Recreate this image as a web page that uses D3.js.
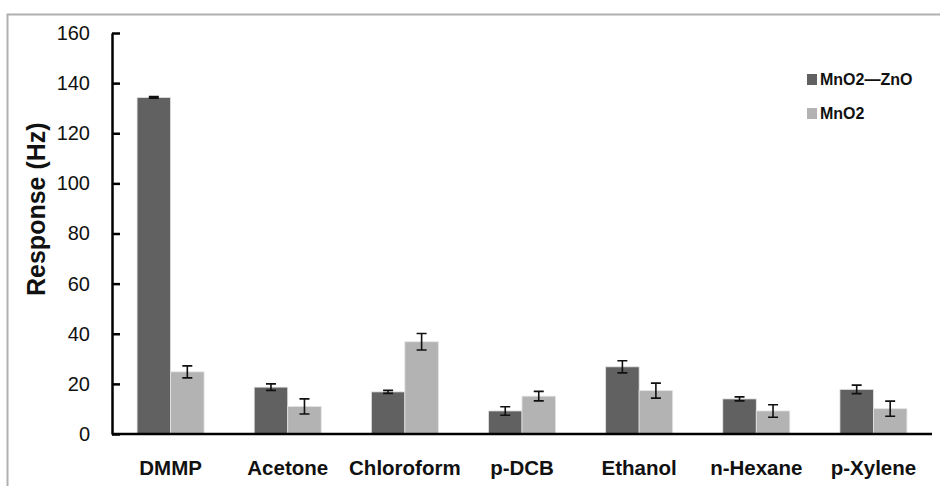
<!DOCTYPE html>
<html>
<head>
<meta charset="utf-8">
<script src="https://cdn.jsdelivr.net/npm/d3@7"></script>
<style>
  html, body { margin: 0; padding: 0; background: #fff; }
  svg { display: block; }
</style>
</head>
<body>
<svg id="chart" width="940" height="486"></svg>
<script>
// Gas sensor response per analyte, two sensing films
const categories = ["DMMP", "Acetone", "Chloroform", "p-DCB", "Ethanol", "n-Hexane", "p-Xylene"];
const seriesNames = ["MnO2\u2014ZnO", "MnO2"];
const mnZnValues = [134.3, 18.7, 16.8, 9.2, 26.8, 14.0, 17.8];
const mnZnErrors = [0.3, 1.3, 0.6, 1.7, 2.4, 0.8, 1.7];
const mnValues = [24.8, 11.0, 36.8, 15.1, 17.3, 9.2, 10.1];
const mnErrors = [2.4, 3.0, 3.3, 1.9, 3.0, 2.5, 3.0];
const yTicks = [0, 20, 40, 60, 80, 100, 120, 140, 160];

const colors = ["#616161", "#b3b3b3"];
const svg = d3.select("#chart");

// Outer frame (top and left edges only)
svg.append("path")
  .attr("d", "M7.5,486 L7.5,14.5 L940,14.5")
  .attr("fill", "none")
  .attr("stroke", "#b0b0b0")
  .attr("stroke-width", 2);

const plotLeft = 112, plotRight = 932, plotTop = 33, plotBottom = 434;

const x0 = d3.scaleBand()
  .domain(categories)
  .range([plotLeft, plotRight])
  .paddingInner(0.428)
  .paddingOuter(0.214);

const x1 = d3.scaleBand()
  .domain(seriesNames)
  .range([0, x0.bandwidth()]);

const y = d3.scaleLinear().domain([0, 160]).range([plotBottom, plotTop]);

const series = [
  { name: seriesNames[0], values: mnZnValues, errors: mnZnErrors, color: colors[0] },
  { name: seriesNames[1], values: mnValues, errors: mnErrors, color: colors[1] }
];

const rows = [];
series.forEach(s => {
  categories.forEach((c, i) => {
    rows.push({ cat: c, name: s.name, value: s.values[i], err: s.errors[i], color: s.color });
  });
});

// Bars
svg.append("g").selectAll("rect")
  .data(rows)
  .join("rect")
  .attr("x", d => x0(d.cat) + x1(d.name))
  .attr("y", d => y(d.value))
  .attr("width", x1.bandwidth())
  .attr("height", d => y(0) - y(d.value))
  .attr("fill", d => d.color)
  .attr("stroke", "#e4e4e4")
  .attr("stroke-width", 0.8);

// Error bars
const capHalf = 5;
const eb = svg.append("g")
  .attr("stroke", "#111")
  .attr("stroke-width", 1.6)
  .attr("fill", "none");
eb.selectAll("path")
  .data(rows)
  .join("path")
  .attr("d", d => {
    const cx = x0(d.cat) + x1(d.name) + x1.bandwidth() / 2;
    const y1 = y(d.value + d.err), y2 = y(d.value - d.err);
    return `M${cx - capHalf},${y1}H${cx + capHalf}M${cx},${y1}V${y2}M${cx - capHalf},${y2}H${cx + capHalf}`;
  });

// Y axis with inward ticks
const yAxis = d3.axisLeft(y)
  .tickValues(yTicks)
  .tickSizeInner(-8)
  .tickSizeOuter(0)
  .tickPadding(22);

const gy = svg.append("g")
  .attr("transform", `translate(${plotLeft},0)`)
  .call(yAxis);
gy.select(".domain").attr("stroke", "#000").attr("stroke-width", 2.5);
gy.selectAll(".tick line").attr("stroke", "#000").attr("stroke-width", 2.5);
gy.selectAll(".tick text")
  .attr("font-family", "'Liberation Sans', Arial, sans-serif")
  .attr("font-size", 20)
  .attr("fill", "#111");

// X axis (category labels, no ticks)
const xAxis = d3.axisBottom(x0).tickSize(0).tickPadding(26);
const gx = svg.append("g")
  .attr("transform", `translate(0,${plotBottom})`)
  .call(xAxis);
gx.select(".domain").attr("stroke", "#000").attr("stroke-width", 2.5)
  .attr("d", `M${plotLeft},0H${plotRight}`);
gx.selectAll(".tick text")
  .attr("font-family", "'Liberation Sans', Arial, sans-serif")
  .attr("font-size", 20.5)
  .attr("font-weight", "bold")
  .attr("fill", "#111");

// Y axis title
svg.append("text")
  .attr("transform", "translate(45,296) rotate(-90)")
  .attr("text-anchor", "start")
  .attr("font-family", "'Liberation Sans', Arial, sans-serif")
  .attr("font-size", 25)
  .attr("font-weight", "bold")
  .attr("fill", "#111")
  .text("Response (Hz)");

// Legend
const legend = svg.append("g").attr("transform", "translate(807,0)");
const legendRows = [
  { name: seriesNames[0], color: colors[0], yBase: 85 },
  { name: seriesNames[1], color: colors[1], yBase: 119 }
];
legendRows.forEach(r => {
  legend.append("rect")
    .attr("x", 0).attr("y", r.yBase - 11)
    .attr("width", 10).attr("height", 11)
    .attr("fill", r.color);
  legend.append("text")
    .attr("x", 13).attr("y", r.yBase)
    .attr("font-family", "'Liberation Sans', Arial, sans-serif")
    .attr("font-size", 16)
    .attr("font-weight", "bold")
    .attr("fill", "#111")
    .text(r.name);
});
</script>
</body>
</html>
